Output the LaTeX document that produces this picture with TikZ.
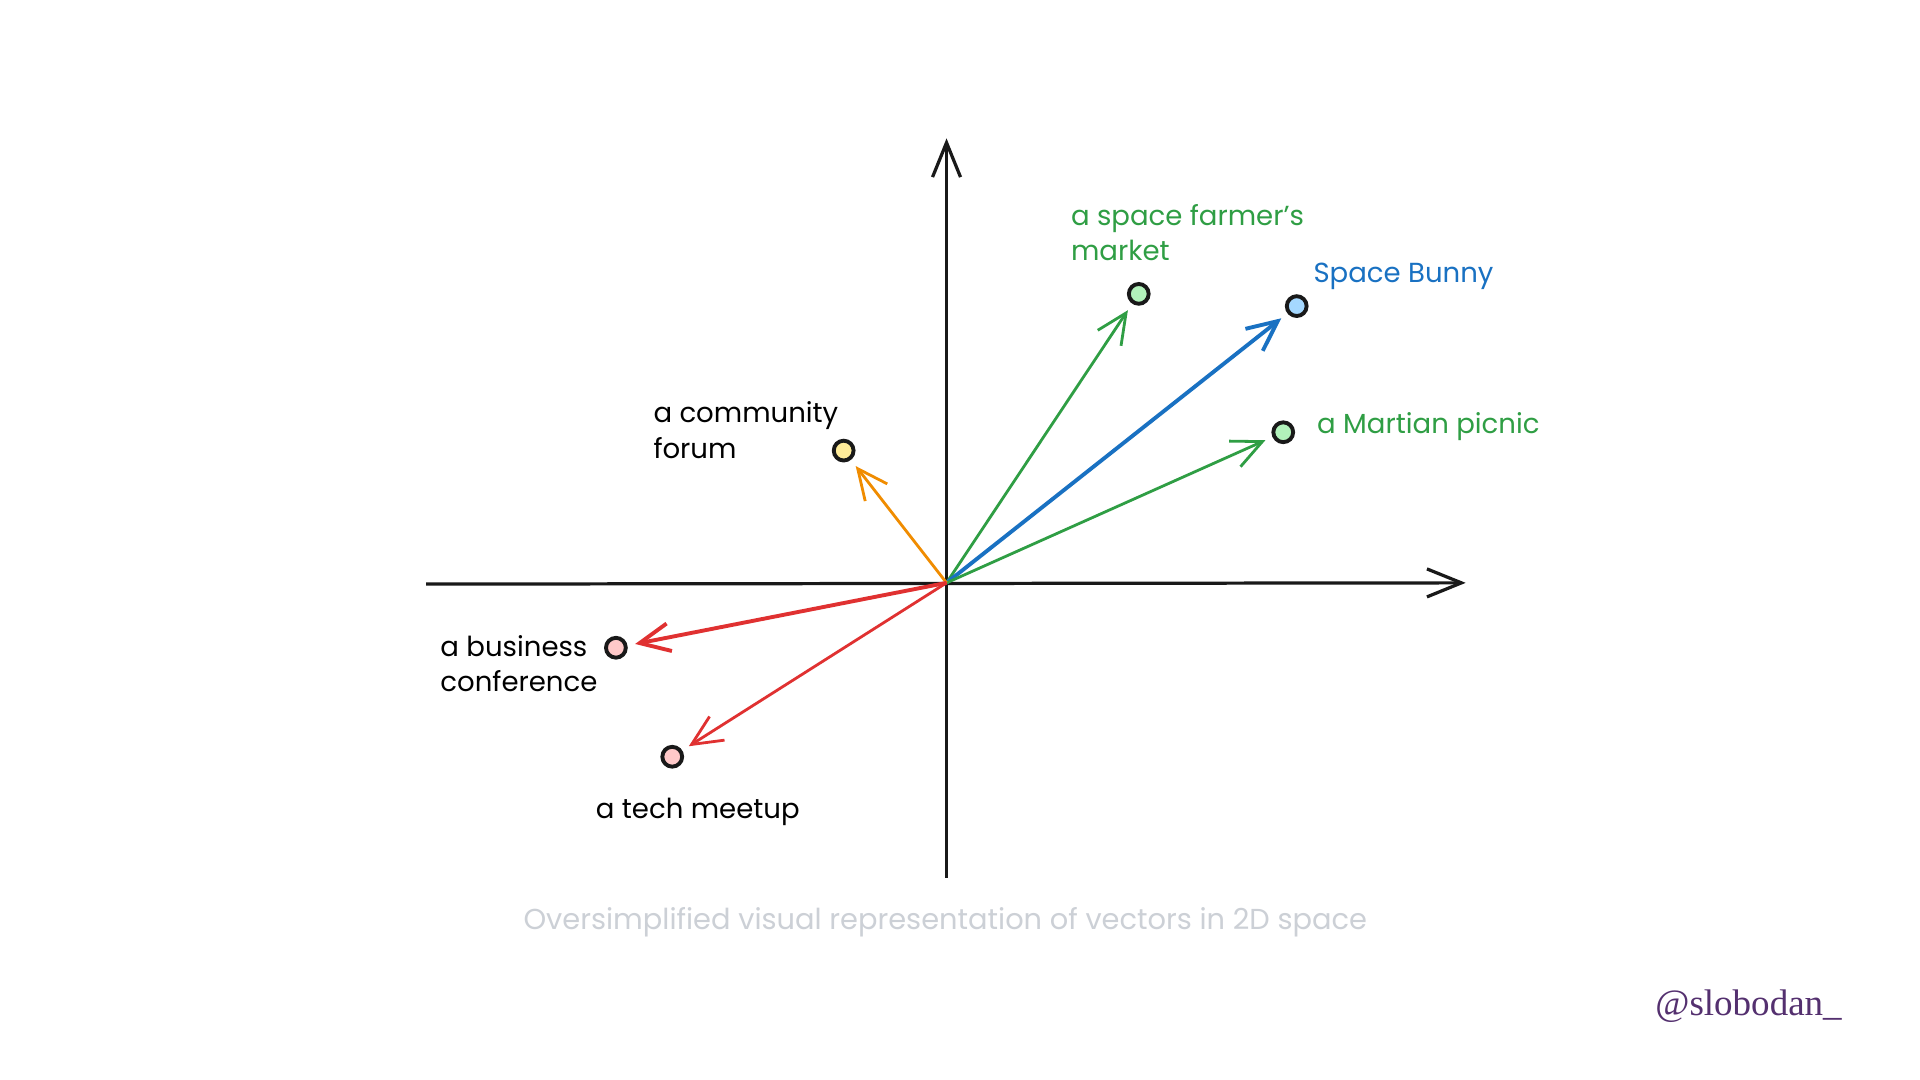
\documentclass[tikz,border=0pt]{standalone}
\usepackage{fontspec}
\setmainfont{Poppins}
\newfontfamily\signfont{Liberation Serif}
\usetikzlibrary{arrows.meta}
\definecolor{vgreen}{HTML}{2F9E44}
\definecolor{vblue}{HTML}{1971C2}
\definecolor{vorange}{HTML}{F08C00}
\definecolor{vred}{HTML}{E03131}
\definecolor{fgreen}{HTML}{B2F2BB}
\definecolor{fblue}{HTML}{A5D8FF}
\definecolor{fyellow}{HTML}{FFEC99}
\definecolor{fred}{HTML}{FFC9C9}
\definecolor{capgray}{HTML}{CCD0D6}
\definecolor{signpurple}{HTML}{54306F}
\tikzset{
  axis/.style = {line width = 0.75pt, black!90, -{Straight Barb[length = 8pt, width = 6.5pt]}},
  vec/.style = {line width = 0.65pt, shorten >= 1.8pt, -{Straight Barb[length = 7pt, width = 6.5pt]}},
  dot/.style = {circle, draw = black!90, line width = 0.9pt, minimum size = 4.6pt, inner sep = 0pt},
  word/.style = {inner sep = 0pt, align = left, font = \fontsize{6.4}{8.3}\selectfont}
}
\begin{document}
\begin{tikzpicture}[x = 0.01cm, y = -0.01cm]
      \useasboundingbox [fill = white] (0, 0) rectangle (1568, 882);
      \coordinate (O) at (773, 476);
      \coordinate (xl) at (348, 477);
      \coordinate (xr) at (1197, 476);
      \coordinate (yb) at (773, 717);
      \coordinate (yt) at (773, 113);
      \draw [axis] (xl) -- (xr);
      \draw [axis] (yb) -- (yt);
      \node [dot, fill = fgreen] (market) at (930, 240) {};
      \node [dot, fill = fblue] (bunny) at (1059, 250) {};
      \node [dot, fill = fgreen] (picnic) at (1048, 353) {};
      \node [dot, fill = fyellow] (forum) at (689, 368) {};
      \node [dot, fill = fred] (business) at (503, 529) {};
      \node [dot, fill = fred] (meetup) at (549, 618) {};
      \draw [vec, vgreen] (O) -- (market);
      \draw [vec, vblue, line width = 0.9pt] (O) -- (bunny);
      \draw [vec, vgreen] (O) -- (picnic);
      \draw [vec, vorange] (O) -- (forum);
      \draw [vec, vred, line width = 0.9pt] (O) -- (business);
      \draw [vec, vred] (O) -- (meetup);
      \node [word, vgreen, anchor = west] (marketlabel) at (874, 190) {a space farmer's\\market};
      \node [word, vblue, anchor = west] (bunnylabel) at (1072, 226) {Space Bunny};
      \node [word, vgreen, anchor = west] (picniclabel) at (1075, 348) {a Martian picnic};
      \node [word, anchor = west] (forumlabel) at (533, 351) {a community\\forum};
      \node [word, anchor = west] (businesslabel) at (359, 542) {a business\\conference};
      \node [word, anchor = west] (meetuplabel) at (486, 663) {a tech meetup};
      \node [word, capgray, font = \fontsize{6.7}{8.3}\selectfont] (caption) at (772, 753) {Oversimplified visual representation of vectors in 2D space};
      \node [inner sep = 0pt, signpurple, font = \signfont\fontsize{8.6}{10}\selectfont] (sign) at (1428, 822) {@slobodan\_};
    \end{tikzpicture}
\end{document}
